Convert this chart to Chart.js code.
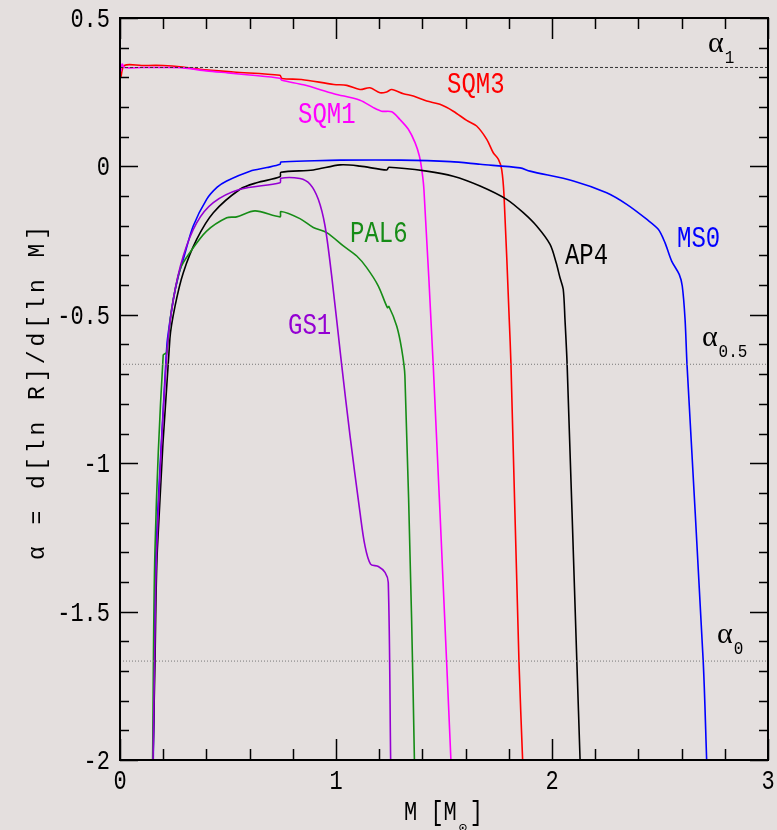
<!DOCTYPE html>
<html>
<head>
<meta charset="utf-8">
<script src="https://cdn.jsdelivr.net/npm/chart.js@4.4.0/dist/chart.umd.min.js"></script>
<style>
  html, body { margin: 0; padding: 0; background: #e4dfde; }
  canvas { display: block; }
</style>
</head>
<body>
<canvas id="chart" width="777" height="830"></canvas>
<script>
// axis ticks
const xTickValues = [0, 1, 2, 3];
const xTickLabels = ['0', '1', '2', '3'];
const yTickValues = [0.5, 0, -0.5, -1, -1.5, -2];
const yTickLabels = ['0.5', '0', '-0.5', '-1', '-1.5', '-2'];
const xMinorStep = 0.2;
const yMinorStep = 0.1;

// reference levels
const alpha1 = 1 / 3;
const alphaHalf = -2 / 3;
const alpha0 = -5 / 3;

// curves: M [Msun] and alpha
const massSQM3 = [0.004, 0.02, 0.1, 0.2, 0.29, 0.37, 0.525, 0.74, 0.75, 0.84, 0.99, 1.05, 1.111, 1.157, 1.204, 1.235, 1.258, 1.312, 1.358, 1.42, 1.481, 1.543, 1.605, 1.651, 1.698, 1.728, 1.752, 1.767, 1.778, 1.802, 1.81, 1.847, 1.864];
const alphaSQM3 = [0.30, 0.34, 0.34, 0.34, 0.335, 0.327, 0.318, 0.307, 0.296, 0.293, 0.276, 0.273, 0.259, 0.265, 0.248, 0.251, 0.259, 0.245, 0.237, 0.22, 0.209, 0.186, 0.155, 0.136, 0.091, 0.046, 0.024, -0.01, -0.1, -0.515, -0.667, -1.667, -2];

const massSQM1 = [0.004, 0.01, 0.02, 0.1, 0.2, 0.29, 0.4, 0.5, 0.6, 0.74, 0.75, 0.85, 0.99, 1.111, 1.173, 1.211, 1.258, 1.296, 1.335, 1.366, 1.386, 1.397, 1.407, 1.45, 1.512, 1.532];
const alphaSQM1 = [0.32, 0.345, 0.333, 0.333, 0.333, 0.332, 0.322, 0.315, 0.308, 0.297, 0.29, 0.275, 0.245, 0.223, 0.198, 0.186, 0.184, 0.158, 0.125, 0.08, 0.035, -0.01, -0.077, -0.667, -1.667, -2];

const massMS0 = [0.154, 0.159, 0.167, 0.213, 0.22, 0.247, 0.27, 0.293, 0.339, 0.401, 0.45, 0.494, 0.602, 0.68, 0.741, 0.745, 0.9, 1.019, 1.3, 1.53, 1.667, 1.852, 1.898, 2.099, 2.253, 2.346, 2.438, 2.492, 2.523, 2.554, 2.589, 2.603, 2.616, 2.625, 2.70, 2.716];
const alphaMS0 = [-2, -1.667, -1.29, -0.65, -0.58, -0.448, -0.37, -0.313, -0.201, -0.111, -0.07, -0.049, -0.016, -0.004, 0.007, 0.015, 0.019, 0.021, 0.021, 0.016, 0.007, -0.005, -0.016, -0.049, -0.089, -0.128, -0.178, -0.212, -0.257, -0.319, -0.364, -0.403, -0.515, -0.667, -1.667, -2];

const massAP4 = [0.153, 0.162, 0.173, 0.231, 0.255, 0.293, 0.355, 0.432, 0.556, 0.633, 0.741, 0.745, 0.895, 1.019, 1.111, 1.235, 1.245, 1.42, 1.543, 1.667, 1.79, 1.867, 1.929, 1.991, 2.019, 2.037, 2.052, 2.06, 2.07, 2.115, 2.13];
const alphaAP4 = [-2, -1.667, -1.29, -0.58, -0.47, -0.358, -0.246, -0.156, -0.077, -0.055, -0.035, -0.02, -0.012, 0.005, 0.001, -0.012, -0.003, -0.016, -0.033, -0.066, -0.111, -0.156, -0.201, -0.263, -0.324, -0.375, -0.414, -0.515, -0.667, -1.667, -2];

const massGS1 = [0.153, 0.16, 0.17, 0.216, 0.247, 0.293, 0.355, 0.432, 0.556, 0.741, 0.745, 0.833, 0.88, 0.918, 0.949, 0.98, 1.026, 1.065, 1.111, 1.134, 1.16, 1.196, 1.227, 1.242, 1.253];
const alphaGS1 = [-2, -1.667, -1.29, -0.64, -0.448, -0.302, -0.19, -0.122, -0.077, -0.055, -0.04, -0.041, -0.06, -0.111, -0.2, -0.369, -0.667, -0.908, -1.166, -1.278, -1.34, -1.348, -1.368, -1.402, -2];

const massPAL6 = [0.151, 0.162, 0.2, 0.216, 0.239, 0.278, 0.324, 0.401, 0.494, 0.54, 0.625, 0.741, 0.745, 0.833, 0.895, 0.957, 1.034, 1.096, 1.142, 1.196, 1.238, 1.245, 1.281, 1.304, 1.319, 1.35, 1.363];
const alphaPAL6 = [-2, -1.29, -0.636, -0.627, -0.48, -0.347, -0.29, -0.218, -0.173, -0.17, -0.15, -0.17, -0.152, -0.176, -0.206, -0.223, -0.268, -0.302, -0.341, -0.403, -0.476, -0.472, -0.538, -0.616, -0.706, -1.525, -2];

// curve names, colours and where their labels sit (data units)
const curveNames  = ['GS1', 'PAL6', 'AP4', 'MS0', 'SQM1', 'SQM3'];
const curveColors = ['#9400d3', '#168c16', '#000000', '#0000ff', '#ff00ff', '#ff0000'];
const curveMass   = [massGS1, massPAL6, massAP4, massMS0, massSQM1, massSQM3];
const curveAlpha  = [alphaGS1, alphaPAL6, alphaAP4, alphaMS0, alphaSQM1, alphaSQM3];
const labelMass   = [0.778, 1.065, 2.060, 2.579, 0.824, 1.514];
const labelAlpha  = [-0.566, -0.256, -0.330, -0.273, 0.145, 0.246];

const levelLabelMass  = [2.722, 2.694, 2.764];
const levelLabelAlpha = [0.384, -0.606, -1.606];
const levelLabelSub   = ['1', '0.5', '0'];

const MONO = '"Liberation Mono", "DejaVu Sans Mono", monospace';
const SERIF = '"Liberation Serif", "DejaVu Serif", serif';

function toPoints(xs, ys) {
    return xs.map((x, i) => ({ x: x, y: ys[i] }));
}

function text(ctx, s, x, y, opts) {
    const o = Object.assign({ size: 22, align: 'left', color: '#000', sy: 1.25, family: MONO, spacing: '0px' }, opts || {});
    ctx.save();
    ctx.translate(x, y);
    ctx.scale(1, o.sy);
    ctx.font = o.size + 'px ' + o.family;
    ctx.letterSpacing = o.spacing;
    ctx.textAlign = o.align;
    ctx.textBaseline = 'alphabetic';
    ctx.fillStyle = o.color;
    ctx.fillText(s, 0, 0);
    const w = ctx.measureText(s).width;
    ctx.restore();
    return w;
}

const curveSets = curveNames.map((name, i) => ({
    label: name,
    data: toPoints(curveMass[i], curveAlpha[i]),
    borderColor: curveColors[i],
    borderWidth: 1.6,
    pointRadius: 0,
    tension: 0.3,
    fill: false
}));

const levelSets = [
    { label: 'a1', data: [{ x: 0, y: alpha1 }, { x: 3, y: alpha1 }], borderColor: '#333', borderWidth: 1, borderDash: [3, 2] },
    { label: 'a05', data: [{ x: 0, y: alphaHalf }, { x: 3, y: alphaHalf }], borderColor: '#777', borderWidth: 1, borderDash: [1, 2] },
    { label: 'a0', data: [{ x: 0, y: alpha0 }, { x: 3, y: alpha0 }], borderColor: '#777', borderWidth: 1, borderDash: [1, 2] }
].map(d => Object.assign(d, { pointRadius: 0, fill: false }));

const framePlugin = {
    id: 'frame',
    afterDraw(chart) {
        const ctx = chart.ctx;
        const xs = chart.scales.x, ys = chart.scales.y;
        const a = chart.chartArea;

        ctx.save();
        ctx.strokeStyle = '#000';
        ctx.lineWidth = 1.5;
        // minor + major ticks on all four sides, pointing inward
        ctx.beginPath();
        for (let v = xs.min; v <= xs.max + 1e-9; v += xMinorStep) {
            const px = Math.round(xs.getPixelForValue(v)) + 0.5;
            const major = Math.abs(v - Math.round(v)) < 1e-6;
            const len = major ? 21 : 11;
            ctx.moveTo(px, a.bottom); ctx.lineTo(px, a.bottom - len);
            ctx.moveTo(px, a.top); ctx.lineTo(px, a.top + len);
        }
        for (let v = ys.min; v <= ys.max + 1e-9; v += yMinorStep) {
            const py = Math.round(ys.getPixelForValue(v)) + 0.5;
            const major = Math.abs(v * 2 - Math.round(v * 2)) < 1e-6;
            const len = major ? 18 : 9;
            ctx.moveTo(a.left, py); ctx.lineTo(a.left + len, py);
            ctx.moveTo(a.right, py); ctx.lineTo(a.right - len, py);
        }
        ctx.stroke();
        ctx.lineWidth = 2;
        ctx.strokeRect(a.left, a.top, a.right - a.left, a.bottom - a.top);
        ctx.restore();

        // tick labels
        xTickValues.forEach((v, i) => {
            text(ctx, xTickLabels[i], xs.getPixelForValue(v), a.bottom + 29, { align: 'center' });
        });
        yTickValues.forEach((v, i) => {
            text(ctx, yTickLabels[i], a.left - 10, ys.getPixelForValue(v) + 9, { align: 'right' });
        });

        // axis titles
        let w = text(ctx, 'M [M', 404, 820, {});
        text(ctx, '\u2299', 404 + w + 6, 832, { size: 14, sy: 1, align: 'center' });
        text(ctx, ']', 404 + w + 13, 820, {});

        ctx.save();
        ctx.translate(44, (a.top + a.bottom) / 2 + 2);
        ctx.rotate(-Math.PI / 2);
        text(ctx, '\u03b1 = d[ln R]/d[ln M]', 0, 0, { align: 'center', sy: 1, size: 23, spacing: '4px' });
        ctx.restore();

        // curve labels
        curveNames.forEach((name, i) => {
            text(ctx, name, xs.getPixelForValue(labelMass[i]), ys.getPixelForValue(labelAlpha[i]), { color: curveColors[i], size: 24, sy: 1.2 });
        });

        // level labels
        levelLabelSub.forEach((sub, i) => {
            const px = xs.getPixelForValue(levelLabelMass[i]);
            const py = ys.getPixelForValue(levelLabelAlpha[i]);
            const aw = text(ctx, '\u03b1', px, py, { size: 30, sy: 1, family: SERIF });
            text(ctx, sub, px + aw + 1, py + 11, { size: 16, sy: 1.2 });
        });
    }
};

new Chart(document.getElementById('chart'), {
    type: 'line',
    data: { datasets: levelSets.concat(curveSets) },
    options: {
        responsive: false,
        animation: false,
        layout: { padding: { top: 18, right: 9, left: 0, bottom: 0 } },
        plugins: { legend: { display: false }, tooltip: { enabled: false } },
        scales: {
            x: {
                type: 'linear', min: 0, max: 3,
                ticks: { display: false, stepSize: 1 },
                grid: { display: false },
                border: { display: false },
                afterFit(scale) { scale.height = 70; }
            },
            y: {
                type: 'linear', min: -2, max: 0.5,
                ticks: { display: false, stepSize: 0.5 },
                grid: { display: false },
                border: { display: false },
                afterFit(scale) { scale.width = 120; }
            }
        }
    },
    plugins: [framePlugin]
});
</script>
</body>
</html>
